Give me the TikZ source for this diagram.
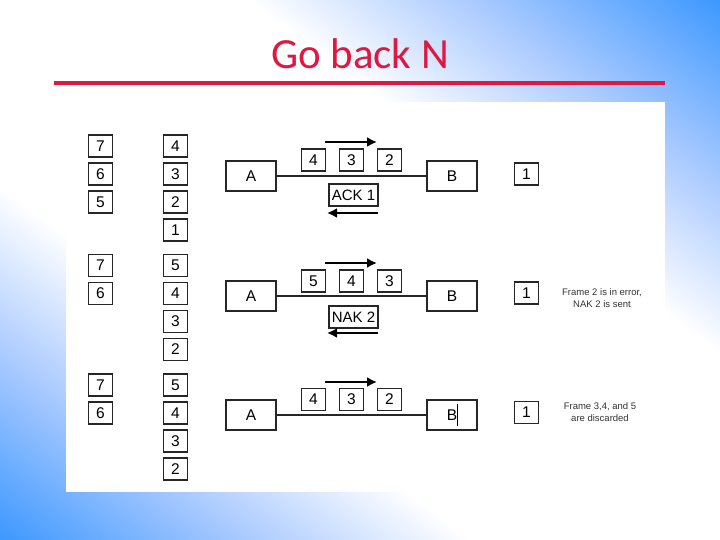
\documentclass[tikz,border=0pt]{standalone}
\usepackage{fontspec}
\setmainfont{Liberation Sans}
\newfontfamily\titlefont{Carlito}
\usetikzlibrary{arrows.meta}
\definecolor{bgblue}{RGB}{52,148,255}
\definecolor{bglight}{RGB}{170,202,255}
\definecolor{titlered}{RGB}{222,24,64}
\pgfdeclareverticalshading{bgshade}{100bp}{color(0bp)=(bgblue); color(14bp)=(bgblue); color(27bp)=(bglight); color(38bp)=(white); color(62bp)=(white); color(73bp)=(bglight); color(86bp)=(bgblue); color(100bp)=(bgblue)}
\begin{document}
\begin{tikzpicture}[x=1pt,y=-1pt,
  fr/.style={draw=black!85, line width=1.8pt, minimum width=24pt, minimum height=22pt, inner sep=0pt, font=\fontsize{15.5}{15.5}\selectfont},
  station/.style={draw=black!85, line width=1.8pt, minimum width=50pt, minimum height=30pt, inner sep=0pt, font=\fontsize{15.5}{15.5}\selectfont},
  msg/.style={draw=black!85, line width=1.8pt, minimum width=49pt, minimum height=22pt, inner sep=0pt, font=\fontsize{15}{15}\selectfont},
  link/.style={draw=black!85, line width=1.8pt},
  flow/.style={line width=2.6pt, -{Latex[length=10pt,width=10pt]}},
  note/.style={align=center, font=\fontsize{9.5}{11.5}\selectfont, text=black!80}]
\useasboundingbox (0,0) rectangle (720,540);
\shade[shading=bgshade, shading angle=-36.87] (0,0) rectangle (720,540);
% title
\node[text=titlered, font=\titlefont\fontsize{43}{43}\selectfont] (title) at (360,54) {Go back N};
\draw[titlered, line width=4pt] (54,83) -- (665,83);
% white panel
\fill[white] (66,102) rectangle (665,492);

% ---------- row 1 ----------
\node[fr] (l1a) at (100.5,146) {7};
\node[fr] (l1b) at (100.5,174) {6};
\node[fr] (l1c) at (100.5,202) {5};
\node[fr] (r1a) at (175.5,146) {4};
\node[fr] (r1b) at (175.5,174) {3};
\node[fr] (r1c) at (175.5,202) {2};
\node[fr] (r1d) at (175.5,230) {1};
\node[station] (A1) at (251,176) {A};
\node[station] (B1) at (452,176) {B};
\draw[link] (A1) -- (B1);
\node[fr] (f1a) at (313.5,160) {4};
\node[fr] (f1b) at (351.5,160) {3};
\node[fr] (f1c) at (389.5,160) {2};
\coordinate (t1s) at (325,142); \coordinate (t1e) at (377,142);
\draw[flow] (t1s) -- (t1e);
\node[msg] (m1) at (353.5,195) {ACK 1};
\coordinate (u1s) at (378,213); \coordinate (u1e) at (327,213);
\draw[flow] (u1s) -- (u1e);
\node[fr] (k1) at (526.5,174) {1};

% ---------- row 2 ----------
\node[fr] (l2a) at (100.5,265.5) {7};
\node[fr] (l2b) at (100.5,293.5) {6};
\node[fr] (r2a) at (175.5,265.5) {5};
\node[fr] (r2b) at (175.5,293.5) {4};
\node[fr] (r2c) at (175.5,321.5) {3};
\node[fr] (r2d) at (175.5,349.5) {2};
\node[station] (A2) at (251,296) {A};
\node[station] (B2) at (452,296) {B};
\draw[link] (A2) -- (B2);
\node[fr] (f2a) at (313.5,281) {5};
\node[fr] (f2b) at (351.5,281) {4};
\node[fr] (f2c) at (389.5,281) {3};
\coordinate (t2s) at (325,263); \coordinate (t2e) at (377,263);
\draw[flow] (t2s) -- (t2e);
\node[msg] (m2) at (353.5,317) {NAK 2};
\coordinate (u2s) at (378,333); \coordinate (u2e) at (327,333);
\draw[flow] (u2s) -- (u2e);
\node[fr] (k2) at (526.5,293) {1};
\node[note] (n2) at (602,298) {Frame 2 is in error,\\NAK 2 is sent};

% ---------- row 3 ----------
\node[fr] (l3a) at (100.5,385) {7};
\node[fr] (l3b) at (100.5,413) {6};
\node[fr] (r3a) at (175.5,385) {5};
\node[fr] (r3b) at (175.5,413) {4};
\node[fr] (r3c) at (175.5,441) {3};
\node[fr] (r3d) at (175.5,469) {2};
\node[station] (A3) at (251,415) {A};
\node[station] (B3) at (452,415) {B};
\draw[link] (A3) -- (B3);
\coordinate (cur1) at (457.5,404); \coordinate (cur2) at (457.5,426);
\draw[line width=1.5pt] (cur1) -- (cur2);
\node[fr] (f3a) at (313.5,399.5) {4};
\node[fr] (f3b) at (351.5,399.5) {3};
\node[fr] (f3c) at (389.5,399.5) {2};
\coordinate (t3s) at (325,382); \coordinate (t3e) at (377,382);
\draw[flow] (t3s) -- (t3e);
\node[fr] (k3) at (526.5,412.5) {1};
\node[note] (n3) at (600,412) {Frame 3,4, and 5\\are discarded};
\end{tikzpicture}
\end{document}
